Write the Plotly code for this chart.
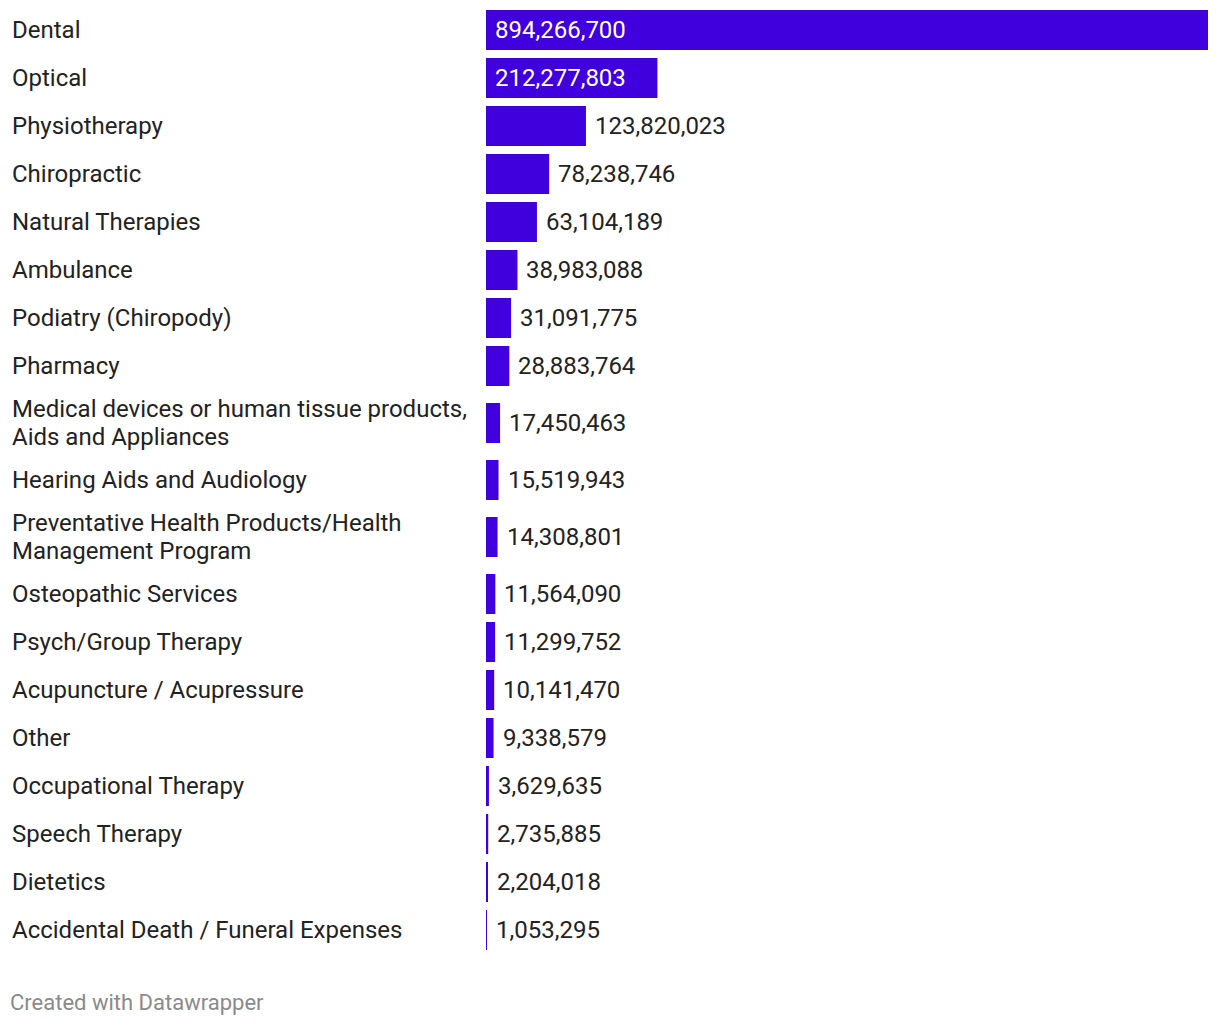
import plotly.graph_objects as go

categories = [
    "Dental", "Optical", "Physiotherapy", "Chiropractic", "Natural Therapies",
    "Ambulance", "Podiatry (Chiropody)", "Pharmacy",
    "Medical devices or human tissue products,<br>Aids and Appliances",
    "Hearing Aids and Audiology",
    "Preventative Health Products/Health<br>Management Program",
    "Osteopathic Services", "Psych/Group Therapy", "Acupuncture / Acupressure",
    "Other", "Occupational Therapy", "Speech Therapy", "Dietetics",
    "Accidental Death / Funeral Expenses",
]
values = [
    894266700, 212277803, 123820023, 78238746, 63104189, 38983088, 31091775,
    28883764, 17450463, 15519943, 14308801, 11564090, 11299752, 10141470,
    9338579, 3629635, 2735885, 2204018, 1053295,
]

BAR_COLOR = "#4000dd"
TEXT_COLOR = "#222222"
FONT = "Roboto"
FS = 24

W, H = 1220, 1026
PLOT_LEFT, PLOT_RIGHT = 486, 1208
TOP = 6
ROW_H = 48
EXTRA_LINE = 18
BAR_H = 40
LINE_H = 28

# row layout in pixel-like units derived from label line counts
heights = [ROW_H + EXTRA_LINE * c.count("<br>") for c in categories]
centers = []
acc = 0
for i, h in enumerate(heights):
    if i == 0:
        acc = h / 2
    else:
        acc += (heights[i - 1] + h) / 2
    centers.append(acc)
total = sum(heights)

fig = go.Figure(go.Bar(
    x=values, y=centers, orientation="h",
    width=BAR_H, marker=dict(color=BAR_COLOR, line=dict(width=0)),
    hoverinfo="skip",
))

max_v = max(values)
span = PLOT_RIGHT - PLOT_LEFT
label_x = (10 - PLOT_LEFT) / span

annotations = []
for cat, v, c in zip(categories, values, centers):
    lines = cat.split("<br>")
    n = len(lines)
    for k, ln in enumerate(lines):
        annotations.append(dict(
            x=label_x, xref="paper", y=c, yref="y", text=ln, showarrow=False,
            xanchor="left", yanchor="middle", align="left",
            yshift=-(k - (n - 1) / 2) * LINE_H,
            font=dict(family=FONT, size=FS, color=TEXT_COLOR),
        ))
    txt = f"{v:,}"
    if v / max_v > 0.15:
        annotations.append(dict(
            x=0, xref="x", y=c, yref="y", text=txt, showarrow=False,
            xanchor="left", yanchor="middle", xshift=7,
            font=dict(family=FONT, size=FS, color="white"),
        ))
    else:
        annotations.append(dict(
            x=v, xref="x", y=c, yref="y", text=txt, showarrow=False,
            xanchor="left", yanchor="middle", xshift=7,
            font=dict(family=FONT, size=FS, color=TEXT_COLOR),
        ))

plot_h = total
bottom_margin = H - TOP - plot_h
annotations.append(dict(
    x=(8 - PLOT_LEFT) / span, xref="paper",
    y=-(1002 - (TOP + plot_h)) / plot_h, yref="paper",
    text="Created with Datawrapper", showarrow=False, xanchor="left", yanchor="middle",
    font=dict(family=FONT, size=22, color="#8a8a8a"),
))

fig.update_layout(
    width=W, height=H,
    margin=dict(l=PLOT_LEFT, r=W - PLOT_RIGHT, t=TOP, b=bottom_margin, pad=0),
    paper_bgcolor="white", plot_bgcolor="white",
    showlegend=False,
    xaxis=dict(range=[0, max_v], visible=False, fixedrange=True),
    yaxis=dict(range=[total, 0], visible=False, fixedrange=True),
    annotations=annotations,
    font=dict(family=FONT, color=TEXT_COLOR),
)

fig.write_html(
    "out.html",
    config=dict(displayModeBar=False),
    post_script="document.body.style.margin='0px';document.body.style.overflow='hidden';",
)
